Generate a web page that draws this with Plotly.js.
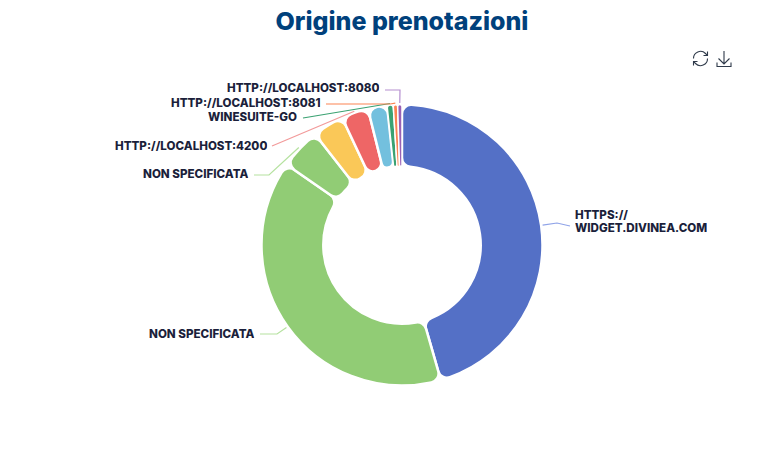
<!DOCTYPE html>
<html><head><meta charset="utf-8">
<script src="https://cdn.plot.ly/plotly-3.0.1.min.js"></script>
<style>html,body{margin:0;padding:0;background:#fff}#c{position:relative;width:776px;height:457px}#i{position:absolute;left:690px;top:48px}</style>
</head><body><div id="c"><div id="g" style="width:776px;height:457px"></div>
<svg id="i" width="44" height="22" viewBox="0 0 44 22" fill="none" stroke="#2f3a4a" stroke-width="1.1">
<path d="M3.5 10.5a7 7 0 0 1 12-5l1.6 1.7M17.5 10.5a7 7 0 0 1-12 5l-1.6-1.7"/><path d="M17.5 3.5v4h-4M3.5 17.5v-4h4"/>
<path d="M34 3v13M28.5 10.5l5.5 5.5 5.5-5.5M27 14.5v4h14v-4"/></svg></div>
<script>
const categories=["HTTPS://WIDGET.DIVINEA.COM","NON SPECIFICATA","NON SPECIFICATA ","Giallo","HTTP://LOCALHOST:4200","Azzurro","WINESUITE-GO","HTTP://LOCALHOST:8081","HTTP://LOCALHOST:8080"];
const names=[["HTTPS://","WIDGET.DIVINEA.COM"],["NON SPECIFICATA"],["NON SPECIFICATA"],[],["HTTP://LOCALHOST:4200"],[],["WINESUITE-GO"],["HTTP://LOCALHOST:8081"],["HTTP://LOCALHOST:8080"]];
const values=[45.55,39.15,4.7,3.6,3.1,2.2,0.7,0.5,0.5];
const colors=["#5470c6","#91cc75","#91cc75","#fac858","#ee6666","#73c0de","#3ba272","#fc8452","#9a60b4"];
const lineColors=["#8fa3e8","#b5e29f","#b5e29f","","#f29a9a","","#3ba272","#fc8452","#b58fd0"];
const gapWidths=[2.5,2.5,2.5,2.5,2.5,2.5,1.5,1.5,1.5];
const labelX=[573,257,251,0,269,0,299,323,381];
const labelY=[[215,227.5],[333.5],[173.5],[],[145.5],[],[117],[103],[88.5]];
const elbows=[[[557,223]],[[277,334]],[[269,175]],[],[],[],[],[[390,104]],[[400,90]]];
const leadStart=[[570,226],[260,334],[254,175],[],[272,146],[],[303,118],[326,104],[385,90]];
const cx=402,cy=245,R=139,hole=0.56,W=776,H=457;
const total=values.reduce((a,b)=>a+b,0);
let acc=0;const shapes=[],annotations=[];
values.forEach((v,i)=>{
  const mid=(acc+v/2)/total*2*Math.PI;acc+=v;
  if(!names[i].length)return;
  const ex=cx+(R+3)*Math.sin(mid),ey=cy-(R+3)*Math.cos(mid);
  const pts=[leadStart[i]].concat(elbows[i]).concat([[ex,ey]]);
  shapes.push({type:'path',xref:'paper',yref:'paper',
    path:pts.map((p,k)=>(k?'L':'M')+(p[0]/W)+','+(1-p[1]/H)).join(' '),
    line:{color:lineColors[i],width:1.2}});
  names[i].forEach((t,k)=>annotations.push({xref:'paper',yref:'paper',x:labelX[i]/W,y:1-labelY[i][k]/H,text:t,showarrow:false,
    xanchor:i==0?'left':'right',yanchor:'middle',align:'left',height:12,
    font:{family:'Inter',size:11.6,color:'#1b1f3b',weight:800}}));
});
const layout={width:W,height:H,margin:{l:0,r:0,t:0,b:0},showlegend:false,paper_bgcolor:'#fff',
 title:{text:'Origine prenotazioni',x:0.518,xanchor:'center',y:0.953,yanchor:'middle',font:{family:'Inter',size:25,color:'#00417c',weight:800}},
 shapes,annotations};
const trace={type:'pie',labels:categories,values,sort:false,direction:'clockwise',rotation:0,hole,textinfo:'none',hoverinfo:'skip',
 marker:{colors,line:{color:'#fff',width:gapWidths}},
 domain:{x:[(cx-R-1.5)/W,(cx+R+1.5)/W],y:[1-(cy+R+1.5)/H,1-(cy-R-1.5)/H]}};
function sector(ox,oy,a0,a1,Ro,Ri,c){
  const P=(r,a)=>(ox+r*Math.sin(a)).toFixed(2)+','+(oy-r*Math.cos(a)).toFixed(2);
  const h=(a1-a0)/2,s=Math.sin(Math.min(h,Math.PI/2));
  const co=Math.min(c,Ro*s/(1+s)),ci=Math.min(c,s<1?Ri*s/(1-s):c);
  const dOut=Math.asin(co/(Ro-co)),dIn=Math.asin(ci/(Ri+ci));
  const ro=Math.sqrt((Ro-co)**2-co**2),ri=Math.sqrt((Ri+ci)**2-ci**2);
  const lo=(a1-a0-2*dOut)>Math.PI?1:0,li=(a1-a0-2*dIn)>Math.PI?1:0;
  return 'M'+P(ro,a0)+'A'+co+','+co+' 0 0 1 '+P(Ro,a0+dOut)+'A'+Ro+','+Ro+' 0 '+lo+' 1 '+P(Ro,a1-dOut)
   +'A'+co+','+co+' 0 0 1 '+P(ro,a1)+'L'+P(ri,a1)+'A'+ci+','+ci+' 0 0 1 '+P(Ri,a1-dIn)
   +'A'+Ri+','+Ri+' 0 '+li+' 0 '+P(Ri,a0+dIn)+'A'+ci+','+ci+' 0 0 1 '+P(ri,a0)+'Z';
}
Plotly.newPlot('g',[trace],layout,{displayModeBar:false}).then(gd=>{
  // round the corners of the slices the library drew, keeping its own centre, radius and angles
  const cd=gd.calcdata[0],c0=cd[0];
  const paths=document.querySelectorAll('#g .slice path.surface');
  const ang=q=>{let a=Math.atan2(q[0],-q[1]);if(a<-1e-6)a+=2*Math.PI;return a;};
  cd.forEach((s,i)=>{
    if(!paths[i]||!s.px0||!s.px1)return;
    const a0=ang(s.px0);let a1=ang(s.px1);if(a1<=a0)a1+=2*Math.PI;
    paths[i].setAttribute('d',sector(c0.cx,c0.cy,a0,a1,c0.r,c0.r*hole,9));
  });
});
</script></body></html>
